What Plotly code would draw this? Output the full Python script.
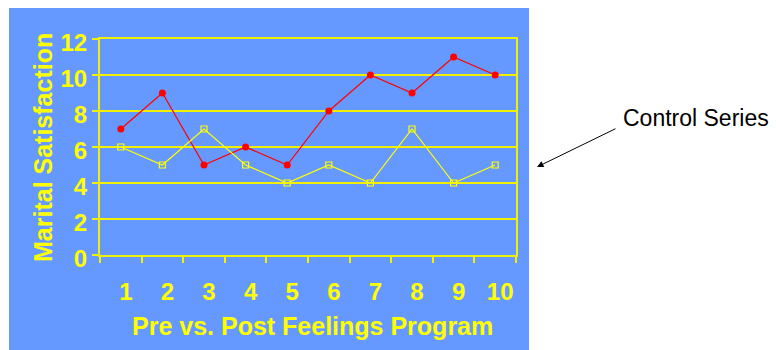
import plotly.graph_objects as go

# Data
sessions = ["1", "2", "3", "4", "5", "6", "7", "8", "9", "10"]
program_scores = [7, 9, 5, 6, 5, 8, 10, 9, 11, 10]
control_scores = [6, 5, 7, 5, 4, 5, 4, 7, 4, 5]
y_ticks = [0, 2, 4, 6, 8, 10, 12]

W, H = 776, 350
# plot area in pixels
L, R, T, B = 100, 516, 39, 255
BLUE = "#6699FF"
YEL = "#FFFF00"
GRID = "#F0F000"
FONT = "Liberation Sans, Arial, sans-serif"


def px(x):
    return (x - L) / (R - L)


def py(y):
    return (B - y) / (B - T)


fig = go.Figure()
fig.add_trace(go.Scatter(
    x=sessions, y=program_scores, mode="lines+markers",
    line=dict(color="#FF0000", width=1.2),
    marker=dict(symbol="circle", size=7, color="#FF0000"),
    showlegend=False,
))
fig.add_trace(go.Scatter(
    x=sessions, y=control_scores, mode="lines+markers",
    line=dict(color=YEL, width=1.2),
    marker=dict(symbol="square-open", size=6, color=YEL, line=dict(width=1.2)),
    showlegend=False,
))

fig.update_layout(
    width=W, height=H,
    margin=dict(l=L, r=W - R, t=T, b=H - B, pad=0),
    paper_bgcolor="white",
    plot_bgcolor=BLUE,
    font=dict(family=FONT, color=YEL),
    xaxis=dict(
        type="category", range=[-0.5, 9.5],
        tickson="boundaries", ticks="outside", ticklen=6, tickcolor=GRID,
        tickwidth=2,
        showline=True, linecolor=GRID, linewidth=2, mirror=True,
        showgrid=False, zeroline=False,
        tickfont=dict(size=24, family=FONT, color=YEL, weight="bold"),
        ticklabelstandoff=14, ticklabelshift=5,
    ),
    yaxis=dict(
        range=[0, 12], tickvals=y_ticks,
        ticks="outside", ticklen=6, tickcolor=GRID, tickwidth=2,
        showline=True, linecolor=GRID, linewidth=2, mirror=True,
        showgrid=True, gridcolor=GRID, gridwidth=2, zeroline=False,
        tickfont=dict(size=24, family=FONT, color=YEL, weight="bold"),
        ticklabelshift=4,
    ),
    shapes=[dict(
        type="rect", xref="paper", yref="paper", layer="below",
        x0=px(9), x1=px(529), y0=py(352), y1=py(8),
        fillcolor=BLUE, line=dict(width=0),
    )],
    annotations=[
        dict(text="<b>Marital Satisfaction</b>", xref="paper", yref="paper",
             x=px(43), y=py(148), xanchor="center", yanchor="middle",
             textangle=-90, showarrow=False,
             font=dict(size=25, family=FONT, color=YEL)),
        dict(text="<b>Pre vs. Post Feelings Program</b>", xref="paper", yref="paper",
             x=px(312), y=py(326), xanchor="center", yanchor="middle",
             showarrow=False,
             font=dict(size=25, family=FONT, color=YEL)),
        dict(text="Control Series", xref="paper", yref="paper",
             x=px(696), y=py(118), xanchor="center", yanchor="middle",
             showarrow=False,
             font=dict(size=23, family=FONT, color="black")),
        dict(text="", xref="paper", yref="paper",
             x=px(537), y=py(167), ax=617 - 537, ay=128 - 167,
             axref="pixel", ayref="pixel",
             showarrow=True, arrowhead=2, arrowsize=1.3, arrowwidth=1,
             arrowcolor="black"),
    ],
)

fig.write_html("out.html")
